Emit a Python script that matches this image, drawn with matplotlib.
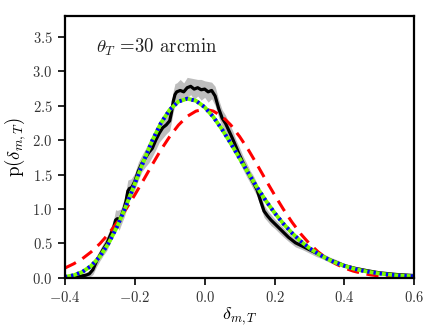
import numpy as np
import matplotlib
matplotlib.use("Agg")
import matplotlib.pyplot as plt

plt.rcParams['font.family'] = 'serif'
plt.rcParams['font.serif'] = ['cmr10', 'DejaVu Serif']
plt.rcParams['mathtext.fontset'] = 'cm'
plt.rcParams['axes.formatter.use_mathtext'] = True

# measured PDF (black) with error band
black_x = [-0.38, -0.36, -0.34, -0.33, -0.32, -0.31, -0.30, -0.29, -0.28, -0.27, -0.26, -0.255,
           -0.25, -0.245, -0.24, -0.23, -0.225, -0.22, -0.215, -0.21, -0.20, -0.19, -0.18,
           -0.17, -0.16, -0.15, -0.14, -0.13, -0.12, -0.11, -0.10, -0.095, -0.09, -0.085,
           -0.08, -0.07, -0.06, -0.05, -0.04, -0.03, -0.02, -0.01, 0.0, 0.01, 0.02, 0.03,
           0.04, 0.05, 0.06, 0.07, 0.08, 0.09, 0.10, 0.11, 0.12, 0.13, 0.14, 0.15, 0.16,
           0.17, 0.18, 0.19, 0.20, 0.22, 0.24, 0.26, 0.28, 0.30, 0.32, 0.34, 0.36, 0.38,
           0.40, 0.43, 0.46, 0.50, 0.55, 0.60]
black_y = [0.005, 0.02, 0.04, 0.06, 0.12, 0.24, 0.33, 0.42, 0.50, 0.62, 0.74, 0.84,
           0.86, 0.84, 0.88, 1.02, 1.12, 1.26, 1.30, 1.30, 1.40, 1.55, 1.66,
           1.74, 1.82, 1.88, 2.00, 2.10, 2.18, 2.22, 2.28, 2.40, 2.56, 2.66,
           2.70, 2.72, 2.70, 2.76, 2.78, 2.74, 2.76, 2.73, 2.74, 2.70, 2.72, 2.64,
           2.46, 2.32, 2.24, 2.13, 2.02, 1.90, 1.78, 1.67, 1.57, 1.47, 1.38, 1.28, 1.12,
           0.97, 0.90, 0.84, 0.79, 0.69, 0.59, 0.51, 0.46, 0.41, 0.36, 0.31, 0.26, 0.22,
           0.18, 0.14, 0.11, 0.075, 0.05, 0.035]
black_err = [0.01, 0.03, 0.04, 0.05, 0.07, 0.08, 0.08, 0.09, 0.10, 0.10, 0.12, 0.15,
             0.12, 0.15, 0.12, 0.13, 0.15, 0.16, 0.13, 0.14, 0.12, 0.13, 0.12,
             0.13, 0.15, 0.12, 0.14, 0.13, 0.15, 0.13, 0.14, 0.13, 0.15, 0.16,
             0.13, 0.16, 0.13, 0.15, 0.12, 0.15, 0.12, 0.15, 0.12, 0.15, 0.12, 0.14,
             0.13, 0.12, 0.12, 0.11, 0.12, 0.10, 0.11, 0.10, 0.10, 0.09, 0.10, 0.09, 0.09,
             0.09, 0.08, 0.08, 0.07, 0.07, 0.06, 0.06, 0.05, 0.05, 0.05, 0.04, 0.04, 0.04,
             0.03, 0.03, 0.03, 0.02, 0.02, 0.01]

# model curves (lognormal-like: green solid + blue dotted; gaussian: red dashed)
model_x = [-0.400, -0.375, -0.350, -0.325, -0.300, -0.275, -0.250, -0.225, -0.200, -0.175,
           -0.150, -0.125, -0.100, -0.075, -0.050, -0.025, 0.000, 0.025, 0.050, 0.075,
           0.100, 0.125, 0.150, 0.175, 0.200, 0.225, 0.250, 0.275, 0.300, 0.325, 0.350,
           0.375, 0.400, 0.425, 0.450, 0.475, 0.500, 0.525, 0.550, 0.575, 0.600]
lognorm_y = [0.015, 0.039, 0.088, 0.175, 0.311, 0.504, 0.752, 1.046, 1.368, 1.692,
             1.993, 2.249, 2.441, 2.559, 2.601, 2.571, 2.478, 2.334, 2.154, 1.950,
             1.736, 1.522, 1.315, 1.122, 0.946, 0.789, 0.652, 0.533, 0.433, 0.349, 0.279,
             0.222, 0.175, 0.138, 0.107, 0.084, 0.065, 0.050, 0.038, 0.030, 0.023]
gauss_y = [0.144, 0.205, 0.280, 0.378, 0.497, 0.640, 0.810, 1.000, 1.206, 1.422,
           1.645, 1.860, 2.052, 2.218, 2.344, 2.420, 2.450, 2.420, 2.344, 2.218,
           2.052, 1.860, 1.645, 1.422, 1.206, 1.000, 0.810, 0.640, 0.497, 0.378, 0.280,
           0.205, 0.144, 0.100, 0.068, 0.045, 0.029, 0.018, 0.0115, 0.007, 0.004]

fig = plt.figure(figsize=(4.36, 3.27), dpi=100)
ax = fig.add_axes([0.149, 0.150, 0.801, 0.801])

bx = np.array(black_x); by = np.array(black_y); be = np.array(black_err)
ax.fill_between(bx, by - be, by + be, color='#bdbdbd', lw=0)
ax.plot(bx, by, color='black', lw=2.3)
ax.plot(model_x, gauss_y, color='red', lw=2.2, ls=(0, (4, 2.5)))
ax.plot(model_x, lognorm_y, color='#7cfc00', lw=2.8)
ax.plot(model_x, lognorm_y, color='#0000ff', lw=2.8, ls=(0, (0.6, 1.0)))

ax.set_xlim(-0.4, 0.6)
ax.set_ylim(0, 3.8)
ax.set_xticks([-0.4, -0.2, 0.0, 0.2, 0.4, 0.6])
ax.set_yticks([0.0, 0.5, 1.0, 1.5, 2.0, 2.5, 3.0, 3.5])
ax.set_xticklabels(['$-0.4$', '$-0.2$', '$0.0$', '$0.2$', '$0.4$', '$0.6$'])
ax.set_yticklabels(['$0.0$', '$0.5$', '$1.0$', '$1.5$', '$2.0$', '$2.5$', '$3.0$', '$3.5$'])
ax.tick_params(direction='out', length=5, width=1.2, labelsize=10.5, pad=4,
               labelcolor='#333333', top=False, right=False)
for sp in ax.spines.values():
    sp.set_linewidth(1.6)

ax.set_xlabel(r'$\delta_{m,T}$', fontsize=13, labelpad=0)
ax.set_ylabel(r'p($\delta_{m,T}$)', fontsize=13.5, labelpad=3)
ax.text(-0.31, 3.35, r'$\theta_T$ =30 arcmin', fontsize=13.5, va='center', ha='left',
        color='#222222')

fig.savefig('out.png', dpi=100)
